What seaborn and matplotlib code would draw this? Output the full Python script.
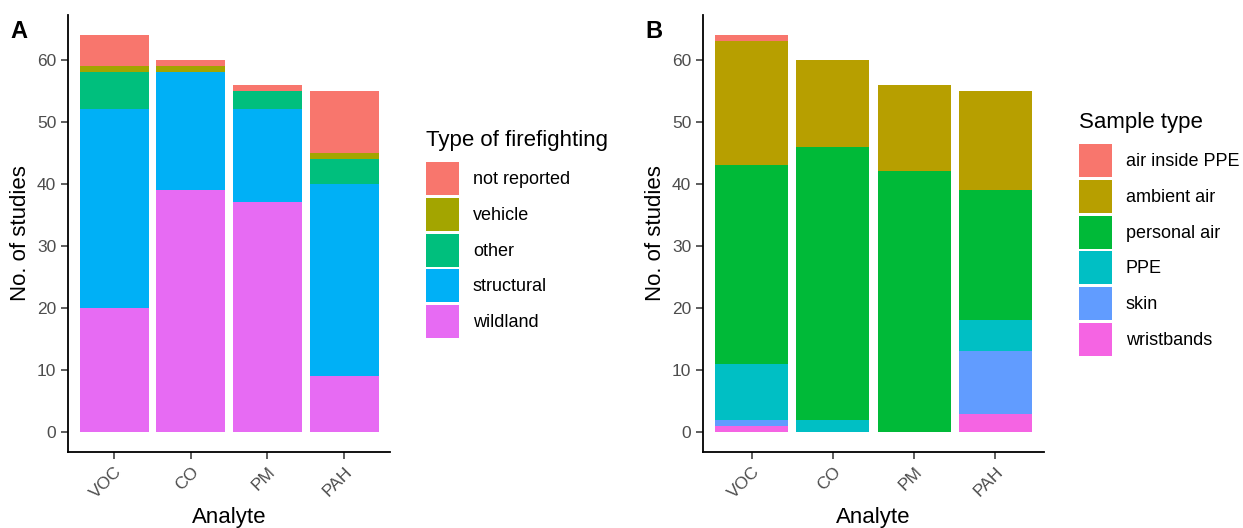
import numpy as np
import pandas as pd
import seaborn as sns
import matplotlib
matplotlib.use("Agg")
import matplotlib.pyplot as plt
from matplotlib.patches import Patch

sns.set_theme(style="ticks")
plt.rcParams["font.family"] = ["Liberation Sans", "DejaVu Sans"]
plt.rcParams["text.color"] = "black"

analytes = ["VOC", "CO", "PM", "PAH"]

# Panel A: number of studies by type of firefighting
fire_types = ["not reported", "vehicle", "other", "structural", "wildland"]
fire_colors = ["#F8766D", "#A3A500", "#00BF7D", "#00B0F6", "#E76BF3"]
not_reported = [5, 1, 1, 10]
vehicle = [1, 1, 0, 1]
other = [6, 0, 3, 4]
structural = [32, 19, 15, 31]
wildland = [20, 39, 37, 9]

# Panel B: number of studies by sample type
sample_types = ["air inside PPE", "ambient air", "personal air", "PPE", "skin", "wristbands"]
sample_colors = ["#F8766D", "#B79F00", "#00BA38", "#00BFC4", "#619CFF", "#F564E3"]
air_inside_ppe = [1, 0, 0, 0]
ambient_air = [20, 14, 14, 16]
personal_air = [32, 44, 42, 21]
ppe = [9, 2, 0, 5]
skin = [1, 0, 0, 10]
wristbands = [1, 0, 0, 3]

y_ticks = [0, 10, 20, 30, 40, 50, 60]


def long_frame(levels, series, name):
    rows = []
    for lvl, vals in zip(levels, series):
        for a, v in zip(analytes, vals):
            rows.append({"Analyte": a, name: lvl, "n": v})
    df = pd.DataFrame(rows)
    df["Analyte"] = pd.Categorical(df["Analyte"], categories=analytes, ordered=True)
    return df


df_a = long_frame(fire_types, [not_reported, vehicle, other, structural, wildland], "fire")
df_b = long_frame(sample_types, [air_inside_ppe, ambient_air, personal_air, ppe, skin, wristbands], "sample")

W, H = 1243, 528
fig = plt.figure(figsize=(W / 100, H / 100), dpi=100)

ax_a = fig.add_axes([68 / W, 1 - 452 / H, (390 - 68) / W, (452 - 15) / H])
ax_b = fig.add_axes([703 / W, 1 - 452 / H, (1044 - 703) / W, (452 - 15) / H])


def draw(ax, df, hue, levels, colors):
    sns.histplot(
        data=df, x="Analyte", hue=hue, weights="n", hue_order=levels,
        palette=dict(zip(levels, colors)), multiple="stack", discrete=True,
        shrink=0.9, alpha=1, linewidth=0, legend=False, ax=ax,
    )
    ax.set_xlim(-0.6, 3.6)
    ax.set_ylim(-3.2, 67.2)
    ax.set_yticks(y_ticks)
    ax.set_xticks(range(len(analytes)))
    ax.set_xticklabels(analytes, rotation=45, ha="right", rotation_mode="anchor")
    ax.set_xlabel("Analyte", fontsize=16, color="black", labelpad=4)
    ax.set_ylabel("No. of studies", fontsize=16, color="black", labelpad=4)
    ax.tick_params(axis="both", labelsize=12.5, labelcolor="#4D4D4D", color="#333333",
                   length=5, width=1.1)
    for s in ["top", "right"]:
        ax.spines[s].set_visible(False)
    for s in ["left", "bottom"]:
        ax.spines[s].set_color("black")
        ax.spines[s].set_linewidth(1.3)
    ax.grid(False)


draw(ax_a, df_a, "fire", fire_types, fire_colors)
draw(ax_b, df_b, "sample", sample_types, sample_colors)

fig.text(10 / W, 1 - 31 / H, "A", fontsize=17, fontweight="bold", va="center", ha="left")
fig.text(645 / W, 1 - 31 / H, "B", fontsize=17, fontweight="bold", va="center", ha="left")


def add_legend(title, levels, colors, x, y):
    handles = [Patch(facecolor=c, edgecolor="none", label=l) for l, c in zip(levels, colors)]
    leg = fig.legend(
        handles=handles, title=title, loc="upper left", bbox_to_anchor=(x / W, 1 - y / H),
        frameon=False, fontsize=13, title_fontsize=16, handlelength=1.85, handleheight=2.44,
        labelspacing=0.15, handletextpad=0.75, borderpad=0, borderaxespad=0,
        alignment="left", labelcolor="black",
    )
    leg.get_title().set_color("black")
    leg._legend_box.sep = 8


add_legend("Type of firefighting", fire_types, fire_colors, 426, 130)
add_legend("Sample type", sample_types, sample_colors, 1079, 112)

fig.savefig("out.png", dpi=100, facecolor="white")
